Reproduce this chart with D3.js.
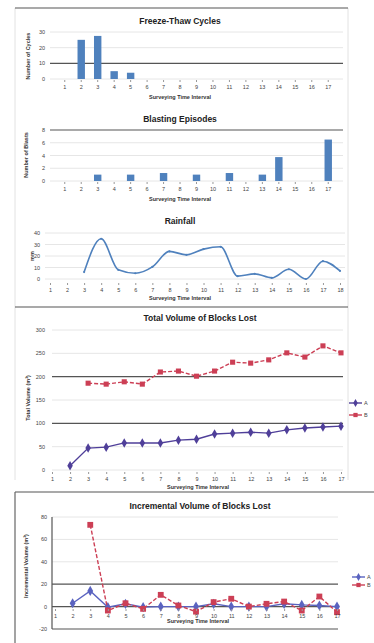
<!DOCTYPE html>
<html>
<head>
<meta charset="utf-8">
<script src="https://cdn.jsdelivr.net/npm/d3@7"></script>
<style>
  body { margin: 0; background: #fff; }
  svg { display: block; font-family: "Liberation Sans", Arial, sans-serif; }
</style>
</head>
<body>
<script>
// interval labels
const intervals17 = ["1","2","3","4","5","6","7","8","9","10","11","12","13","14","15","16","17"];
const intervals18 = ["1","2","3","4","5","6","7","8","9","10","11","12","13","14","15","16","17","18"];

// freeze-thaw cycles per interval
const freezeThaw = [0, 25, 27.5, 5, 4, 0, 0, 0, 0, 0, 0, 0, 0, 0, 0, 0, 0];
const freezeTicks = [0, 10, 20, 30];

// blasting episodes per interval
const blasting = [0, 0, 1, 0, 1, 0, 1.25, 0, 1, 0, 1.25, 0, 1, 3.75, 0, 0, 6.5];
const blastTicks = [0, 2, 4, 6, 8];

// rainfall (mm), starts at interval 3
const rainfall = [null, null, 6, 35, 8, 5, 10.5, 24, 21, 26, 28, 2.5, 4.5, 1, 8.5, 0, 15.5, 7];
const rainTicks = [0, 10, 20, 30, 40];

// total volume lost, two zones
const totalA = [null, 9, 47, 49, 58, 58, 58, 64, 66, 77, 79, 81, 79, 86, 90, 92, 94];
const totalB = [null, null, 186, 184, 189, 184, 210, 212, 201, 212, 231, 229, 236, 251, 242, 266, 251];
const totalTicks = [0, 50, 100, 150, 200, 250, 300];

// incremental volume lost, two zones
const incA = [null, 3, 14, -0.5, 2.5, -0.5, 0, 0, 0, 2.5, 0, 0, 0, 2.5, 1.5, 1, 0];
const incB = [null, null, 73, -3.5, 3, -2, 10.5, 1, -4.5, 4, 7, 0, 2.5, 4.5, -3.5, 9, -5];
const incTicks = [-20, 0, 20, 40, 60, 80];

const seriesNames = ["A", "B"];

const W = 374, H = 643;
const blue = "#4f81bd", purple = "#4f3f99", red = "#cc3f55";

const svg = d3.select("body").append("svg")
  .attr("width", W)
  .attr("height", H);

svg.append("rect").attr("width", W).attr("height", H).attr("fill", "#fff");

// frames
function hline(x1, x2, y, col, w) {
  svg.append("line").attr("x1", x1).attr("x2", x2).attr("y1", y).attr("y2", y)
    .attr("stroke", col).attr("stroke-width", w || 1);
}
function vline(x, y1, y2, col, w) {
  svg.append("line").attr("x1", x).attr("x2", x).attr("y1", y1).attr("y2", y2)
    .attr("stroke", col).attr("stroke-width", w || 1);
}
vline(15, 8, 480, "#e2e2e2");
vline(348, 8, 480, "#e2e2e2");
hline(15, 348, 8, "#555", 1.2);
hline(15, 348, 307, "#555", 1.2);
hline(15, 374, 492, "#555", 1.2);
vline(15, 492, 643, "#666", 1.2);

function title(txt, x, y) {
  svg.append("text").attr("x", x).attr("y", y).attr("text-anchor", "middle")
    .attr("font-size", 8.5).attr("font-weight", "bold").attr("fill", "#222").text(txt);
}
function xTitle(txt, x, y) {
  svg.append("text").attr("x", x).attr("y", y).attr("text-anchor", "middle")
    .attr("font-size", 5.5).attr("font-weight", "bold").attr("fill", "#333").text(txt);
}
function yTitle(txt, x, y) {
  svg.append("text").attr("transform", "translate(" + x + "," + y + ") rotate(-90)")
    .attr("text-anchor", "middle").attr("font-size", 5.5).attr("font-weight", "bold")
    .attr("fill", "#333").text(txt);
}

// gridlines + y labels
function grid(y, ticks, x1, x2, dark, labelX) {
  ticks.forEach(t => {
    const isDark = dark.indexOf(t) !== -1;
    hline(x1, x2, y(t), isDark ? "#555" : "#e6e6e6", isDark ? 1.2 : 1);
    svg.append("text").attr("x", labelX).attr("y", y(t) + 2)
      .attr("text-anchor", "end").attr("font-size", 5.5).attr("fill", "#444").text(t);
  });
}

function xLabels(x, labels, y) {
  const g = svg.append("g").attr("transform", "translate(0," + y + ")");
  g.call(d3.axisBottom(x).tickSize(2).tickSizeOuter(0));
  g.select(".domain").remove();
  g.selectAll("line").attr("stroke", "#999");
  g.selectAll("text").attr("font-size", 5.5).attr("fill", "#444").attr("font-family", null);
}

// ---- Freeze-thaw cycles ----
title("Freeze-Thaw Cycles", 180, 24);
const x1 = d3.scaleBand().domain(intervals17).range([52, 341]).padding(0.55);
const y1 = d3.scaleLinear().domain([0, 30]).range([79, 32]);
grid(y1, freezeTicks, 50, 343, [10], 45);
svg.append("g").selectAll("rect").data(freezeThaw).enter().append("rect")
  .attr("x", (d, i) => x1(intervals17[i]))
  .attr("y", d => y1(d))
  .attr("width", x1.bandwidth())
  .attr("height", d => y1(0) - y1(d))
  .attr("fill", blue);
xLabels(x1, intervals17, 80);
xTitle("Surveying Time Interval", 180, 99);
yTitle("Number of Cycles", 30, 56);

// ---- Blasting episodes ----
title("Blasting Episodes", 180, 122);
const x2 = d3.scaleBand().domain(intervals17).range([52, 341]).padding(0.55);
const y2 = d3.scaleLinear().domain([0, 8]).range([181, 130]);
grid(y2, blastTicks, 50, 343, [8], 45);
svg.append("g").selectAll("rect").data(blasting).enter().append("rect")
  .attr("x", (d, i) => x2(intervals17[i]))
  .attr("y", d => y2(d))
  .attr("width", x2.bandwidth())
  .attr("height", d => y2(0) - y2(d))
  .attr("fill", blue);
xLabels(x2, intervals17, 182);
xTitle("Surveying Time Interval", 180, 201);
yTitle("Number of Blasts", 28, 155);

// ---- Rainfall ----
title("Rainfall", 180, 224);
const x3 = d3.scalePoint().domain(intervals18).range([50, 340]);
const y3 = d3.scaleLinear().domain([0, 40]).range([279, 233]);
grid(y3, rainTicks, 45, 345, [], 40);
const rainLine = d3.line()
  .defined(d => d !== null)
  .x((d, i) => x3(intervals18[i]))
  .y(d => y3(d))
  .curve(d3.curveMonotoneX);
svg.append("path").datum(rainfall).attr("d", rainLine)
  .attr("fill", "none").attr("stroke", blue).attr("stroke-width", 1.6);
svg.append("g").selectAll("circle")
  .data(rainfall.map((d, i) => ({ v: d, i: i })).filter(d => d.v !== null))
  .enter().append("circle")
  .attr("cx", d => x3(intervals18[d.i]))
  .attr("cy", d => y3(d.v)).attr("r", 1.1).attr("fill", blue);
xLabels(x3, intervals18, 283);
xTitle("Surveying Time Interval", 180, 300);
yTitle("mm", 34, 256);

// ---- Total volume lost ----
title("Total Volume of Blocks Lost", 200, 321);
const x4 = d3.scalePoint().domain(intervals17).range([52, 341]);
const y4 = d3.scaleLinear().domain([0, 300]).range([470, 330]);
grid(y4, totalTicks, 52, 343, [100, 200], 45);
function series(data, x, y, labels, col, dashed, shape, size) {
  const line = d3.line().defined(d => d !== null)
    .x((d, i) => x(labels[i])).y(d => y(d));
  svg.append("path").datum(data).attr("d", line)
    .attr("fill", "none").attr("stroke", col).attr("stroke-width", 1.4)
    .attr("stroke-dasharray", dashed ? "4,2" : null);
  const sym = d3.symbol().type(shape).size(size);
  svg.append("g").selectAll("path").data(data.map((d, i) => ({ v: d, i: i })).filter(d => d.v !== null))
    .enter().append("path")
    .attr("d", sym)
    .attr("transform", d => "translate(" + x(labels[d.i]) + "," + y(d.v) + ")")
    .attr("fill", col);
}
series(totalB, x4, y4, intervals17, red, true, d3.symbolSquare, 26);
series(totalA, x4, y4, intervals17, purple, false, d3.symbolDiamond, 26);
xLabels(x4, intervals17, 472);
xTitle("Surveying Time Interval", 198, 489);
yTitle("Total Volume (m³)", 30, 398);

function legend(x, y, col, shape, dashed, name) {
  hline(x, x + 13, y, col, 1.4);
  svg.append("path").attr("d", d3.symbol().type(shape).size(18))
    .attr("transform", "translate(" + (x + 6.5) + "," + y + ")").attr("fill", col);
  svg.append("text").attr("x", x + 15).attr("y", y + 2).attr("font-size", 5.5)
    .attr("fill", "#444").text(name);
}
legend(349, 403, purple, d3.symbolDiamond, false, seriesNames[0]);
legend(349, 415, red, d3.symbolSquare, true, seriesNames[1]);

// ---- Incremental volume lost ----
title("Incremental Volume of Blocks Lost", 200, 509);
const x5 = d3.scalePoint().domain(intervals17).range([55, 337]);
const y5 = d3.scaleLinear().domain([-20, 80]).range([629, 517]);
grid(y5, incTicks, 52, 338, [-20, 0, 20], 47);
vline(52, 517, 629, "#555", 1.2);
series(incA, x5, y5, intervals17, "#5a63c0", false, d3.symbolDiamond, 30);
series(incB, x5, y5, intervals17, red, true, d3.symbolSquare, 34);
xLabels(x5, intervals17, 609);
xTitle("Surveying Time Interval", 198, 623);
yTitle("Incremental Volume (m³)", 28, 566);
legend(352, 577, "#5a63c0", d3.symbolDiamond, false, seriesNames[0]);
legend(352, 585, red, d3.symbolSquare, true, seriesNames[1]);
</script>
</body>
</html>
